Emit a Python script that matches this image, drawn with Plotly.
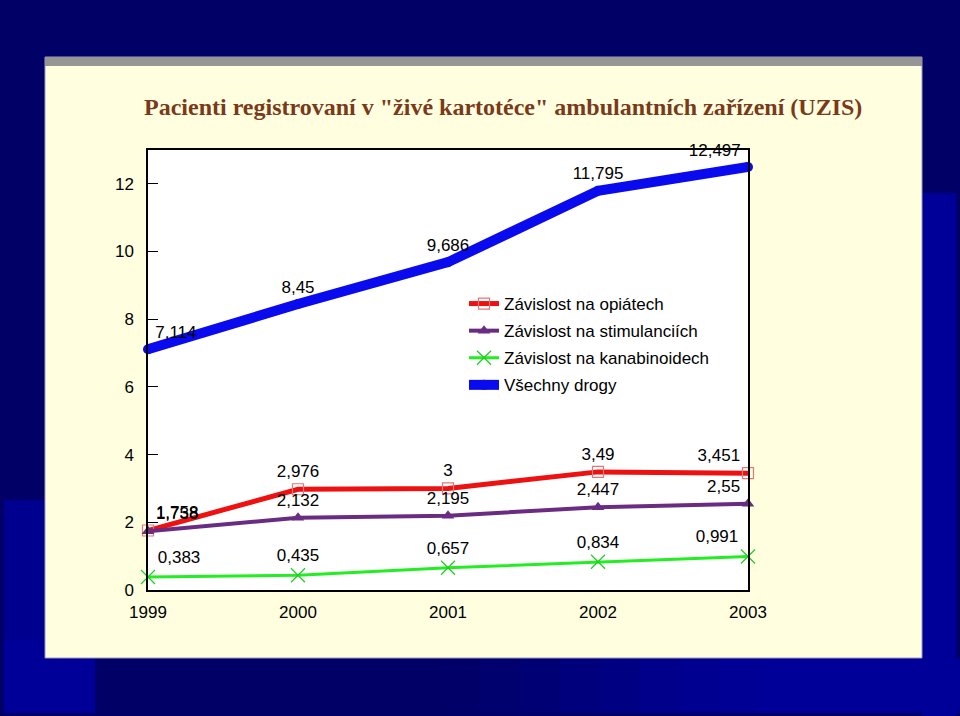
import plotly.graph_objects as go

years = [1999, 2000, 2001, 2002, 2003]
opiaty = [1.758, 2.976, 3, 3.49, 3.451]
stimulancia = [1.738, 2.132, 2.195, 2.447, 2.55]
kanabinoidy = [0.383, 0.435, 0.657, 0.834, 0.991]
vsechny = [7.114, 8.45, 9.686, 11.795, 12.497]
series_names = ["Závislost na opiátech", "Závislost na stimulanciích",
                "Závislost na kanabinoidech", "Všechny drogy"]
title_text = 'Pacienti registrovaní v "živé kartotéce" ambulantních zařízení (UZIS)'
y_ticks = [0, 2, 4, 6, 8, 10, 12]

W, H = 960, 716
L, R, T, B = 148, 748, 150, 590


def px(x):
    return (x - L) / (R - L)


def py(y):
    return (B - y) / (B - T)


def lab(vals):
    return [f"{v:g}".replace(".", ",") for v in vals]


positions = ["top right", "top center", "top center", "top center", "top left"]
lblfont = dict(family="Liberation Sans, Arial, sans-serif", size=17, color="black")

fig = go.Figure()
fig.add_trace(go.Scatter(
    x=years, y=opiaty, name=series_names[0], mode="lines+markers+text", legendgroup="a",
    line=dict(color="#ee1111", width=5),
    marker=dict(symbol="square-open", size=11, color="#e07a7a", line=dict(width=1.2)),
    text=lab(opiaty), textposition=positions, textfont=lblfont, cliponaxis=False))
fig.add_trace(go.Scatter(
    x=years, y=stimulancia, name=series_names[1], mode="lines+markers+text", legendgroup="b",
    line=dict(color="#6a2c82", width=4),
    marker=dict(symbol="triangle-up", size=11, color="#6a2c82"),
    text=lab(stimulancia), textposition=positions, textfont=lblfont, cliponaxis=False))
fig.add_trace(go.Scatter(
    x=years, y=kanabinoidy, name=series_names[2], mode="lines+markers+text", legendgroup="c",
    line=dict(color="#22ee22", width=3),
    marker=dict(symbol="x-thin-open", size=14, color="#22cc22", line=dict(width=1.2, color="#22cc22")),
    text=lab(kanabinoidy), textposition=positions, textfont=lblfont, cliponaxis=False))
fig.add_trace(go.Scatter(
    x=years, y=vsechny, name=series_names[3], mode="lines+markers+text", legendgroup="d",
    line=dict(color="#0a0aee", width=10),
    marker=dict(symbol="circle", size=10, color="#0a0aee"),
    text=lab(vsechny), textposition=positions, textfont=lblfont, cliponaxis=False))

shapes = [
    dict(type="rect", x0=px(922), x1=px(956), y0=py(716), y1=py(193),
         fillcolor="#000099", line_width=0),
    dict(type="rect", x0=px(4), x1=px(95), y0=py(713), y1=py(640),
         fillcolor="#000099", line_width=0),
    dict(type="rect", x0=px(4), x1=px(45), y0=py(640), y1=py(500),
         fillcolor="#00008f", line_width=0),
]
grad = ["#000066", "#000068", "#00006e", "#000075", "#00007c", "#000083",
        "#00008a", "#000090", "#000095", "#000099", "#000099", "#000099",
        "#000099", "#000099"]
x0 = 400
for i, c in enumerate(grad):
    shapes.append(dict(type="rect", x0=px(x0 + i * 40), x1=px(x0 + (i + 1) * 40 + 1),
                       y0=py(713), y1=py(658), fillcolor=c, line_width=0))
shapes += [
    dict(type="rect", x0=px(45), x1=px(922), y0=py(658), y1=py(57),
         fillcolor="#ffffe0", line=dict(color="#9a9ab8", width=1)),
    dict(type="rect", x0=px(45), x1=px(922), y0=py(66), y1=py(57),
         fillcolor="#959595", line_width=0),
    dict(type="rect", x0=0, x1=1, y0=0, y1=1, fillcolor="white", line_width=0),
]
for s in shapes:
    s.update(xref="paper", yref="paper", layer="below")

fig.update_layout(
    width=W, height=H,
    margin=dict(l=L, r=W - R, t=T, b=H - B),
    paper_bgcolor="#000066",
    plot_bgcolor="rgba(0,0,0,0)",
    shapes=shapes,
    showlegend=True,
    legend=dict(x=px(464), y=py(286), xanchor="left", yanchor="top",
                bgcolor="rgba(0,0,0,0)", traceorder="grouped",
                font=dict(family="Liberation Sans, Arial, sans-serif", size=17, color="black"),
                tracegroupgap=2, itemwidth=30),
    annotations=[dict(text=title_text, xref="paper", yref="paper",
                      x=px(503), y=py(107), xanchor="center", yanchor="middle",
                      showarrow=False,
                      font=dict(family="Liberation Serif, Times New Roman, serif",
                                size=24, color="#7a3a1a", weight="bold"))],
    xaxis=dict(range=[1999, 2003], tickvals=years, ticktext=[str(y) for y in years],
               showgrid=False, zeroline=False, showline=True, linecolor="black",
               linewidth=1.5, mirror=True, ticks="", ticklabelstandoff=6,
               tickfont=dict(family="Liberation Sans, Arial, sans-serif", size=17, color="black")),
    yaxis=dict(range=[0, 13], tickvals=y_ticks, showgrid=False, zeroline=False,
               showline=True, linecolor="black", linewidth=1.5, mirror=True,
               ticks="inside", ticklen=10, tickcolor="black", ticklabelstandoff=9,
               tickfont=dict(family="Liberation Sans, Arial, sans-serif", size=17, color="black")),
)

fig.write_html("out.html", config={"displayModeBar": False},
               post_script="document.body.style.margin='0';document.body.style.overflow='hidden';")
